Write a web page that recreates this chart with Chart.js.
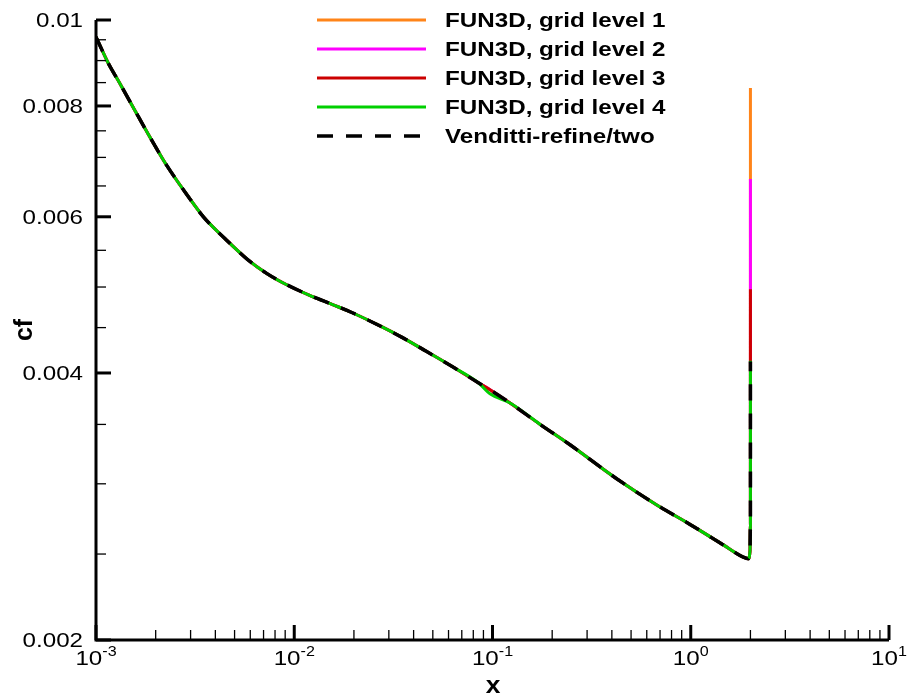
<!DOCTYPE html>
<html>
<head>
<meta charset="utf-8">
<script src="https://cdn.jsdelivr.net/npm/chart.js@4.4.1/dist/chart.umd.min.js"></script>
<style>
  html, body { margin: 0; padding: 0; background: #fff; }
  #wrap { position: relative; width: 909px; height: 698px; }
</style>
</head>
<body>
<div id="wrap"><canvas id="cfChart"></canvas></div>
<script>
// skin friction along the plate
const xPos = [0.001, 0.00115, 0.00132, 0.0016, 0.00191, 0.00227, 0.00281, 0.00348, 0.00447,
  0.00576, 0.00726, 0.00916, 0.0118, 0.0155, 0.0195, 0.026, 0.0348, 0.0448, 0.0623,
  0.0848, 0.0971, 0.1226, 0.174, 0.246, 0.423, 0.674, 0.991, 1.46, 1.84, 1.95, 1.99, 2.0];
const cfWall = [0.00957, 0.00895, 0.00848, 0.00785, 0.00732, 0.00686, 0.00640, 0.00600, 0.00567,
  0.00538, 0.00518, 0.00503, 0.00490, 0.00478, 0.00468, 0.00454, 0.00439, 0.00425, 0.00407,
  0.00390, 0.00383, 0.00370, 0.00350, 0.00332, 0.00304, 0.00284, 0.00270, 0.00256, 0.00248,
  0.00247, 0.00252, 0.00270];
// finest grid has a small dip just past x = 0.08
const cfLevel4 = [0.00957, 0.00895, 0.00848, 0.00785, 0.00732, 0.00686, 0.00640, 0.00600, 0.00567,
  0.00538, 0.00518, 0.00503, 0.00490, 0.00478, 0.00468, 0.00454, 0.00439, 0.00425, 0.00407,
  0.00390, 0.00379, 0.00370, 0.00350, 0.00332, 0.00304, 0.00284, 0.00270, 0.00256, 0.00248,
  0.00247, 0.00252, 0.00270];
// value reached by the trailing edge spike at x = 2
const spikeTops = [0.00838, 0.00662, 0.00497, 0.00413, 0.00412];

const seriesNames = ['FUN3D, grid level 1', 'FUN3D, grid level 2', 'FUN3D, grid level 3',
  'FUN3D, grid level 4', 'Venditti-refine/two'];
const seriesColors = ['#ff8419', '#ff00ff', '#cc0000', '#00d000', '#000000'];

const yMajorTicks = [0.002, 0.004, 0.006, 0.008, 0.01];
const yTickLabels = ['0.002', '0.004', '0.006', '0.008', '0.01'];
const yMinorTicks = [0.0025, 0.003, 0.0035, 0.0045, 0.005, 0.0055, 0.0065, 0.007, 0.0075,
  0.0085, 0.009, 0.0095];
const xDecades = [-3, -2, -1, 0, 1];

const FONT = '"Liberation Sans", Arial, Helvetica, sans-serif';

function curve(cf, top) {
  const pts = xPos.map((x, i) => ({ x: x, y: cf[i] }));
  pts.push({ x: xPos[xPos.length - 1], y: top });
  return pts;
}

const datasets = seriesNames.map((name, i) => ({
  label: name,
  data: curve(i === 3 ? cfLevel4 : cfWall, spikeTops[i]),
  borderColor: seriesColors[i],
  borderWidth: i === 4 ? 3.5 : 3,
  borderDash: i === 4 ? [16, 13] : [],
  showLine: true,
  cubicInterpolationMode: 'monotone',
  pointRadius: 0,
  fill: false,
  order: 5 - i   // dashed reference ends up on top
}));

// text looks a bit wide in the original, so stretch it horizontally
function wideText(ctx, str, x, y, sx, align) {
  const w = ctx.measureText(str).width * sx;
  let left = x;
  if (align === 'right') left = x - w;
  else if (align === 'center') left = x - w / 2;
  ctx.save();
  ctx.translate(left, y);
  ctx.scale(sx, 1);
  ctx.textAlign = 'left';
  ctx.fillText(str, 0, 0);
  ctx.restore();
  return w;
}

const tecplotAxes = {
  id: 'tecplotAxes',
  afterDatasetsDraw(chart) {
    const { ctx, chartArea: a, scales } = chart;
    const xs = scales.x, ys = scales.y;
    ctx.save();
    ctx.strokeStyle = '#000';
    ctx.fillStyle = '#000';
    ctx.setLineDash([]);

    // axis lines
    ctx.lineWidth = 3;
    ctx.beginPath();
    ctx.moveTo(a.left, a.top);
    ctx.lineTo(a.left, a.bottom);
    ctx.lineTo(a.right, a.bottom);
    ctx.stroke();

    // y ticks
    ctx.lineWidth = 3;
    yMajorTicks.forEach(v => {
      const py = ys.getPixelForValue(v);
      ctx.beginPath(); ctx.moveTo(a.left, py); ctx.lineTo(a.left + 15, py); ctx.stroke();
    });
    ctx.lineWidth = 1.3;
    yMinorTicks.forEach(v => {
      const py = ys.getPixelForValue(v);
      ctx.beginPath(); ctx.moveTo(a.left, py); ctx.lineTo(a.left + 10, py); ctx.stroke();
    });

    // x ticks
    xDecades.forEach((k, i) => {
      const px = xs.getPixelForValue(Math.pow(10, k));
      ctx.lineWidth = 3;
      ctx.beginPath(); ctx.moveTo(px, a.bottom); ctx.lineTo(px, a.bottom - 15); ctx.stroke();
      if (i < xDecades.length - 1) {
        ctx.lineWidth = 1.3;
        for (let m = 2; m <= 9; m++) {
          const pm = xs.getPixelForValue(m * Math.pow(10, k));
          ctx.beginPath(); ctx.moveTo(pm, a.bottom); ctx.lineTo(pm, a.bottom - 10); ctx.stroke();
        }
      }
    });

    // y tick labels
    ctx.font = '21px ' + FONT;
    ctx.textBaseline = 'middle';
    yMajorTicks.forEach((v, i) => {
      wideText(ctx, yTickLabels[i], 83, ys.getPixelForValue(v) + 1, 1.15, 'right');
    });

    // x tick labels, 10 with a raised exponent
    ctx.textBaseline = 'alphabetic';
    xDecades.forEach(k => {
      const px = xs.getPixelForValue(Math.pow(10, k));
      ctx.font = '21px ' + FONT;
      const wBase = ctx.measureText('10').width * 1.15;
      ctx.font = '14px ' + FONT;
      const wExp = ctx.measureText(String(k)).width * 1.15;
      const left = px - (wBase + wExp) / 2;
      ctx.font = '21px ' + FONT;
      wideText(ctx, '10', left, 665, 1.15, 'left');
      ctx.font = '14px ' + FONT;
      wideText(ctx, String(k), left + wBase, 656, 1.15, 'left');
    });

    // axis titles
    ctx.font = 'bold 24px ' + FONT;
    wideText(ctx, 'x', 493, 693, 1.1, 'center');
    ctx.save();
    ctx.translate(32, 330);
    ctx.rotate(-Math.PI / 2);
    ctx.font = 'bold 25px ' + FONT;
    ctx.fillText('cf', -ctx.measureText('cf').width / 2, 0);
    ctx.restore();

    // legend
    chart.data.datasets.forEach((ds, i) => {
      const ly = 20 + 29 * i;
      ctx.strokeStyle = ds.borderColor;
      ctx.lineWidth = ds.borderWidth;
      ctx.setLineDash(ds.borderDash);
      ctx.beginPath(); ctx.moveTo(317, ly); ctx.lineTo(426, ly); ctx.stroke();
      ctx.setLineDash([]);
      ctx.font = 'bold 20.5px ' + FONT;
      ctx.textBaseline = 'middle';
      ctx.fillStyle = '#000';
      wideText(ctx, ds.label, 445, ly + 1, 1.18, 'left');
    });
    ctx.restore();
  }
};

new Chart(document.getElementById('cfChart'), {
  type: 'scatter',
  data: { datasets: datasets },
  options: {
    responsive: true,
    maintainAspectRatio: false,
    animation: false,
    layout: { padding: { left: 96, right: 20, top: 20, bottom: 58 } },
    plugins: { legend: { display: false }, tooltip: { enabled: false } },
    scales: {
      x: { type: 'logarithmic', min: 0.001, max: 10, display: false },
      y: { type: 'logarithmic', min: 0.002, max: 0.01, display: false }
    }
  },
  plugins: [tecplotAxes]
});
</script>
</body>
</html>
